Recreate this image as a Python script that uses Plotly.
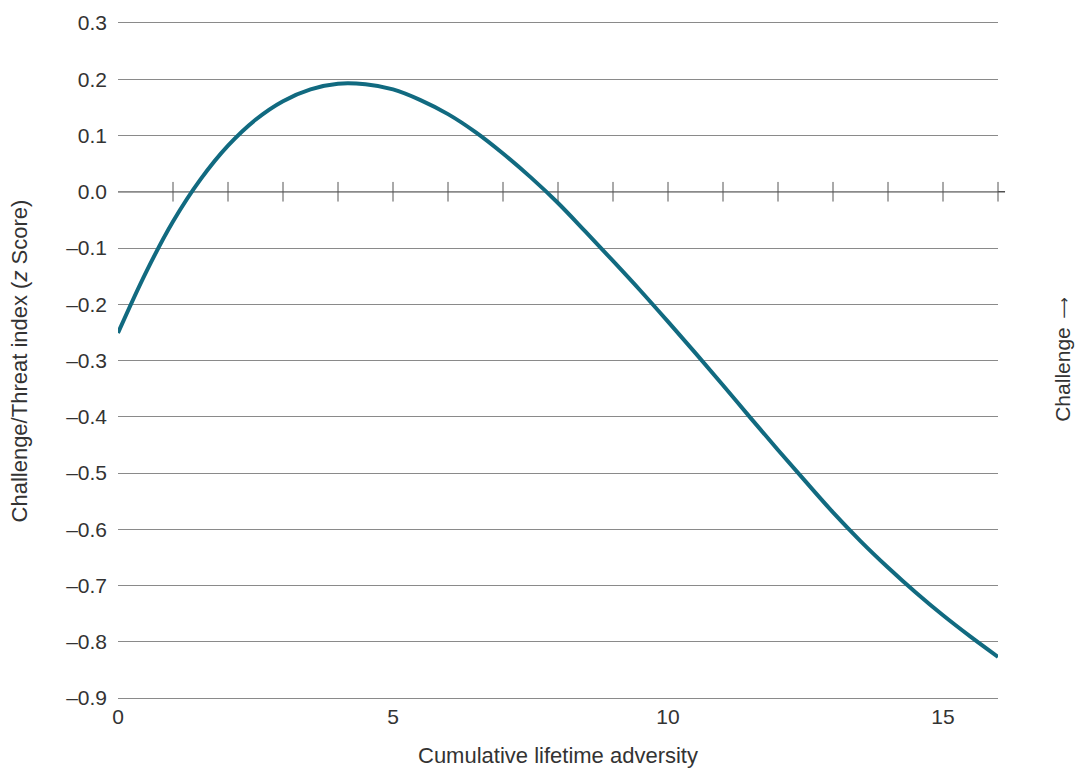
import plotly.graph_objects as go

# Curve values
adversity = [0, 0.5, 1, 1.5, 2, 2.5, 3, 3.5, 4, 4.5, 5, 5.5, 6, 6.5, 7, 7.5, 8,
             8.5, 9, 9.5, 10, 10.5, 11, 11.5, 12, 12.5, 13, 13.5, 14, 14.5, 15, 15.5, 16]
index_z = [-0.251, -0.145, -0.053, 0.022, 0.082, 0.128, 0.161, 0.182, 0.192, 0.191,
           0.182, 0.163, 0.138, 0.106, 0.068, 0.026, -0.020, -0.071, -0.123, -0.176,
           -0.231, -0.287, -0.344, -0.402, -0.459, -0.515, -0.570, -0.621, -0.668,
           -0.712, -0.753, -0.791, -0.827]

zero_ticks = list(range(1, 17))
x_tickvals = [0, 5, 10, 15]
y_tickvals = [0.3, 0.2, 0.1, 0.0, -0.1, -0.2, -0.3, -0.4, -0.5, -0.6, -0.7, -0.8, -0.9]
y_ticktext = ["0.3", "0.2", "0.1", "0.0", "\u20130.1", "\u20130.2", "\u20130.3", "\u20130.4",
              "\u20130.5", "\u20130.6", "\u20130.7", "\u20130.8", "\u20130.9"]

FONT = "Liberation Sans, Arial, Helvetica, sans-serif"
TXT = "#333333"
GRID = "#8a8a8a"
LINE = "#116A80"

fig = go.Figure()

# zero line (extends slightly beyond the plot)
fig.add_shape(type="line", xref="paper", yref="y", x0=0, x1=1.008, y0=0, y1=0,
              line=dict(color="#505050", width=1.5), layer="below")

# tick marks on the zero line
fig.add_trace(go.Scatter(
    x=zero_ticks, y=[0] * len(zero_ticks), mode="markers",
    marker=dict(symbol="line-ns-open", size=14, color="#555555",
                line=dict(color="#555555", width=1)),
    hoverinfo="skip", showlegend=False, cliponaxis=False))

fig.add_trace(go.Scatter(
    x=adversity, y=index_z, mode="lines",
    line=dict(color=LINE, width=4, shape="spline", smoothing=1.0),
    showlegend=False, cliponaxis=False))

fig.update_layout(
    width=1076, height=769,
    margin=dict(l=118, r=78, t=23, b=71),
    paper_bgcolor="white", plot_bgcolor="white",
    font=dict(family=FONT, size=21, color=TXT),
    xaxis=dict(range=[0, 16], tickvals=x_tickvals, showgrid=False, zeroline=False,
               showline=True, mirror=True, linecolor=GRID, linewidth=1,
               ticks="", tickfont=dict(size=21, color=TXT)),
    yaxis=dict(range=[-0.9, 0.3], tickvals=y_tickvals, ticktext=y_ticktext,
               showgrid=True, gridcolor=GRID, gridwidth=1, zeroline=False,
               showline=False, ticks="", ticklabelstandoff=10,
               tickfont=dict(size=21, color=TXT)),
    annotations=[
        dict(text="Cumulative lifetime adversity", xref="paper", yref="paper",
             x=0.5, y=-0.085, xanchor="center", yanchor="middle", showarrow=False,
             font=dict(size=22, color=TXT)),
        dict(text="Challenge/Threat index (<i>z</i> Score)", xref="paper", yref="paper",
             x=-0.1114, y=0.5, xanchor="center", yanchor="middle", textangle=-90,
             showarrow=False, font=dict(size=22, color=TXT)),
        dict(text="Challenge", xref="paper", yref="paper",
             x=1.074, y=0.479, xanchor="center", yanchor="middle", textangle=-90,
             showarrow=False, font=dict(size=21, color=TXT)),
        dict(text="\u27f6", xref="paper", yref="paper",
             x=1.074, y=0.5785, xanchor="center", yanchor="middle", textangle=-90,
             showarrow=False, font=dict(size=15, color=TXT, family="DejaVu Sans")),
    ],
)

fig.write_html("out.html")
